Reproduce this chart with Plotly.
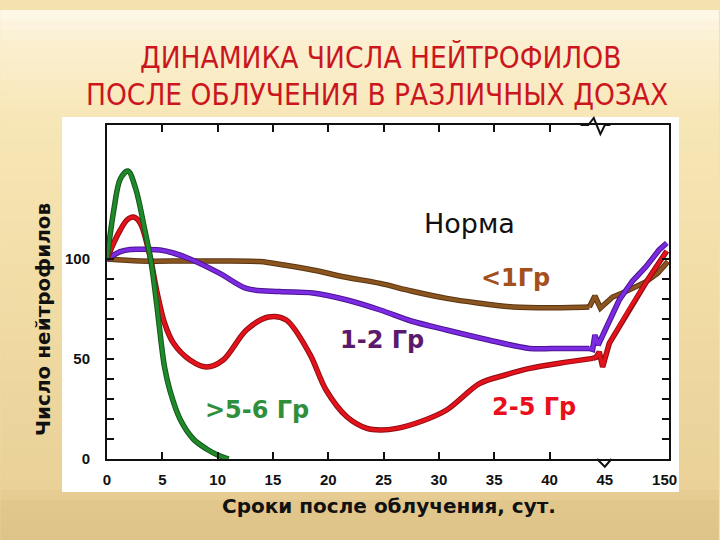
import plotly.graph_objects as go

# ---------------- data ----------------
# x positions: days 0..45 map 1:1; the broken tail (45 -> 150 days) is compressed into 45..50.4
TICK_POS = [0, 5, 10, 15, 20, 25, 30, 35, 40, 45, 50.4]
TICK_TXT = ["0", "5", "10", "15", "20", "25", "30", "35", "40", "45", "150"]
X_MARKS = [5, 10, 15, 20, 25, 30, 35, 40]
Y_TICKS = [0, 50, 100]
Y_MARKS = [10, 20, 30, 40, 60, 70, 80, 90]
NORM = 100
BREAK_TOP = 44.0      # axis-break mark on the top axis
BREAK_BOTTOM = 45.0   # axis-break mark on the bottom axis

green_x = [0, 0.6, 1.2, 1.9, 2.6, 3.4, 4.0, 4.5, 4.9, 5.2, 5.7, 6.6, 7.8, 9.0, 10.0, 11.0]
green_y = [100, 124, 140, 144, 135, 115, 98, 77, 58, 46, 34, 20, 10, 5, 2, 0]

red_x = [0, 0.6, 1.2, 1.8, 2.4, 3.0, 3.9, 4.5, 5.2, 6.0, 7.5, 9.0, 10.5, 12.6, 14.6, 16.2,
         18.3, 19.8, 21.7, 23.5, 24.7, 26.2, 28.5, 30.7, 33.7, 36.0, 38.2, 41.0, 43.9]
red_y = [100, 108, 114.5, 119.5, 121, 118, 101, 84, 68, 58, 49.5, 46, 49.5, 64.5, 71, 69.5,
         52.8, 34.5, 21, 15.3, 14.5, 15.3, 19, 24.5, 37.8, 42, 45.3, 48, 50.3]
red_tail_x = [43.9, 44.2, 44.5, 44.8, 45.4, 47.2, 48.8, 50.6]
red_tail_y = [50.3, 50.8, 53.6, 46, 57.8, 75, 89, 104]

purple_x = [0, 1.2, 2.1, 3.6, 4.8, 6.0, 7.5, 10.2, 12.6, 15.6, 18.6, 21.7, 24.7, 27.5, 30.7,
            34.5, 38.2, 41.0, 43.6]
purple_y = [100, 103.7, 104.8, 104.8, 104.5, 103, 100, 92.8, 85.3, 83.7, 83, 79.5, 74.5, 69,
            64.5, 59.5, 55.3, 55.3, 55.3]
purple_tail_x = [43.6, 43.9, 44.1, 44.4, 46.3, 47.5, 48.7, 49.9, 50.6]
purple_tail_y = [55.3, 54.8, 62, 57, 79.5, 89, 96, 104.5, 108]

brown_x = [0, 3, 7, 10, 13.8, 16, 18.6, 21.5, 24.7, 27.5, 30.7, 33.5, 36.7, 40, 43.6]
brown_y = [100, 99, 99, 99, 98.7, 97, 94.5, 91, 87.8, 84, 80.3, 78, 76, 75.6, 76]
brown_tail_x = [43.6, 44.1, 44.6, 45.7, 46.6, 48.7, 49.8, 50.7]
brown_tail_y = [76, 81.5, 75.5, 81, 83, 88.5, 93, 98.7]

GREEN, RED, PURPLE, BROWN = "#1f8a2a", "#e3121b", "#7b2be2", "#8b5520"
GREEN_D, RED_D, PURPLE_D, BROWN_D = "#14571b", "#8e0c12", "#4c1490", "#5a3512"

fig = go.Figure()

# reference (norm) line
fig.add_hline(y=NORM, line=dict(color="#111111", width=2.5, dash="10px,7px"), layer="below")


def add_curve(x, y, color, dark, shape):
    fig.add_trace(go.Scatter(x=x, y=y, mode="lines", hoverinfo="skip", showlegend=False,
                             line=dict(color=dark, width=5.5, shape=shape, smoothing=0.9)))
    fig.add_trace(go.Scatter(x=x, y=y, mode="lines", hoverinfo="skip", showlegend=False,
                             line=dict(color=color, width=3.5, shape=shape, smoothing=0.9)))


add_curve(brown_x, brown_y, BROWN, BROWN_D, "spline")
add_curve(brown_tail_x, brown_tail_y, BROWN, BROWN_D, "linear")
add_curve(purple_x, purple_y, PURPLE, PURPLE_D, "spline")
add_curve(purple_tail_x, purple_tail_y, PURPLE, PURPLE_D, "linear")
add_curve(red_x, red_y, RED, RED_D, "spline")
add_curve(red_tail_x, red_tail_y, RED, RED_D, "linear")
add_curve(green_x, green_y, GREEN, GREEN_D, "spline")

# ---------------- background (slide) ----------------
PX0, PX1 = -107 / 563, 613 / 563
def py(p):
    return (459 - p) / 334

def px(p):
    return (p - 107) / 563

def lerp(c1, c2, t):
    a = [int(c1[i:i + 2], 16) for i in (1, 3, 5)]
    b = [int(c2[i:i + 2], 16) for i in (1, 3, 5)]
    return "#%02x%02x%02x" % tuple(round(a[k] + (b[k] - a[k]) * t) for k in range(3))

stops = [(0, "#fefbf1"), (40, "#fbf0d2"), (120, "#f7e6b6"), (300, "#f1dca5"), (490, "#e9d197"), (500, "#e2c88e"), (540, "#dfc388")]
shapes = []
step = 10
for top in range(0, 540, step):
    mid = top + step / 2
    for (p0, c0), (p1, c1) in zip(stops[:-1], stops[1:]):
        if p0 <= mid <= p1:
            col = lerp(c0, c1, (mid - p0) / (p1 - p0))
            break
    shapes.append(dict(type="rect", xref="paper", yref="paper", x0=PX0, x1=PX1,
                       y0=py(top + step + 1), y1=py(top), fillcolor=col, line_width=0, layer="below"))
# white scanned chart area
shapes.append(dict(type="rect", xref="paper", yref="paper", x0=px(62), x1=px(680),
                   y0=py(492), y1=py(117), fillcolor="#ffffff", line_width=0, layer="below"))
# axis-break marks
d = 0.5
h = 7 / 334
shapes.append(dict(type="path", xref="x", yref="paper", layer="above",
                   path=f"M {BREAK_TOP - 1.2},1 L {BREAK_TOP - d},1 L {BREAK_TOP},{1 + h} "
                        f"L {BREAK_TOP + 0.6},{1 - 1.3 * h} L {BREAK_TOP + 1.0},1 L {BREAK_TOP + 1.5},1",
                   line=dict(color="#111111", width=2)))
shapes.append(dict(type="path", xref="x", yref="paper", layer="above",
                   path=f"M {BREAK_BOTTOM - 0.7},0 L {BREAK_BOTTOM},{-1.1 * h} L {BREAK_BOTTOM + 0.6},0",
                   line=dict(color="#111111", width=2)))
fig.update_layout(shapes=shapes)

# ---------------- annotations ----------------
TITLE_RED = "#cc161e"
ann = []
ann.append(dict(text="ДИНАМИКА ЧИСЛА НЕЙТРОФИЛОВ", xref="paper", yref="paper", x=px(381), y=py(58),
                xanchor="center", yanchor="middle", showarrow=False,
                font=dict(family="DejaVu Sans Condensed", size=29.5, color=TITLE_RED)))
ann.append(dict(text="ПОСЛЕ ОБЛУЧЕНИЯ В РАЗЛИЧНЫХ ДОЗАХ", xref="paper", yref="paper", x=px(377), y=py(95),
                xanchor="center", yanchor="middle", showarrow=False,
                font=dict(family="DejaVu Sans Condensed", size=29.5, color=TITLE_RED)))
ann.append(dict(text="Число нейтрофилов", xref="paper", yref="paper", x=px(43), y=py(320),
                xanchor="center", yanchor="middle", textangle=-90, showarrow=False,
                font=dict(family="DejaVu Sans", size=20, color="#111111", weight="bold")))
ann.append(dict(text="Сроки после облучения, сут.", xref="paper", yref="paper", x=px(390), y=py(506),
                xanchor="center", yanchor="middle", showarrow=False,
                font=dict(family="DejaVu Sans", size=20, color="#111111", weight="bold")))

labels = [
    ("Норма", 32.8, 118, "#111111", "normal", 27),
    ("<1Гр", 36.9, 90.5, "#a3501c", "bold", 24),
    ("1-2 Гр", 24.9, 59.5, "#5c1a6e", "bold", 24),
    (">5-6 Гр", 13.6, 24.5, "#2f8f3c", "bold", 24),
    ("2-5 Гр", 38.6, 26, "#e8101a", "bold", 24),
]
for t, x, y, c, w, s in labels:
    ann.append(dict(text=t, x=x, y=y, xref="x", yref="y", showarrow=False,
                    xanchor="center", yanchor="middle",
                    font=dict(family="DejaVu Sans", size=s, color=c, weight=w)))
fig.update_layout(annotations=ann)

# ---------------- axes ----------------
tickfont = dict(family="Liberation Sans", size=15, color="#111111", weight="bold")
fig.update_xaxes(range=[0, 50.8], tickmode="array", tickvals=TICK_POS, ticktext=TICK_TXT,
                 ticks="", showline=True, linecolor="#111111", linewidth=2, mirror="ticks",
                 minor=dict(tickmode="array", tickvals=X_MARKS, ticks="inside", ticklen=7,
                            tickwidth=2, tickcolor="#111111"),
                 showgrid=False, zeroline=False, tickfont=tickfont, ticklabelstandoff=6)
fig.update_yaxes(range=[0, 167], tickmode="array", tickvals=Y_TICKS,
                 ticks="inside", ticklen=7, tickwidth=2, tickcolor="#111111",
                 minor=dict(tickmode="array", tickvals=Y_MARKS, ticks="inside", ticklen=7,
                            tickwidth=2, tickcolor="#111111"),
                 showline=True, linecolor="#111111", linewidth=2, mirror="ticks",
                 showgrid=False, zeroline=False, tickfont=tickfont, ticklabelstandoff=12)

fig.update_layout(width=720, height=540, margin=dict(l=107, r=51, t=125, b=81),
                  paper_bgcolor="#f3e2b0", plot_bgcolor="rgba(0,0,0,0)", showlegend=False)

fig.write_html("out.html", config={"displayModeBar": False},
               post_script="document.body.style.margin='0';")
